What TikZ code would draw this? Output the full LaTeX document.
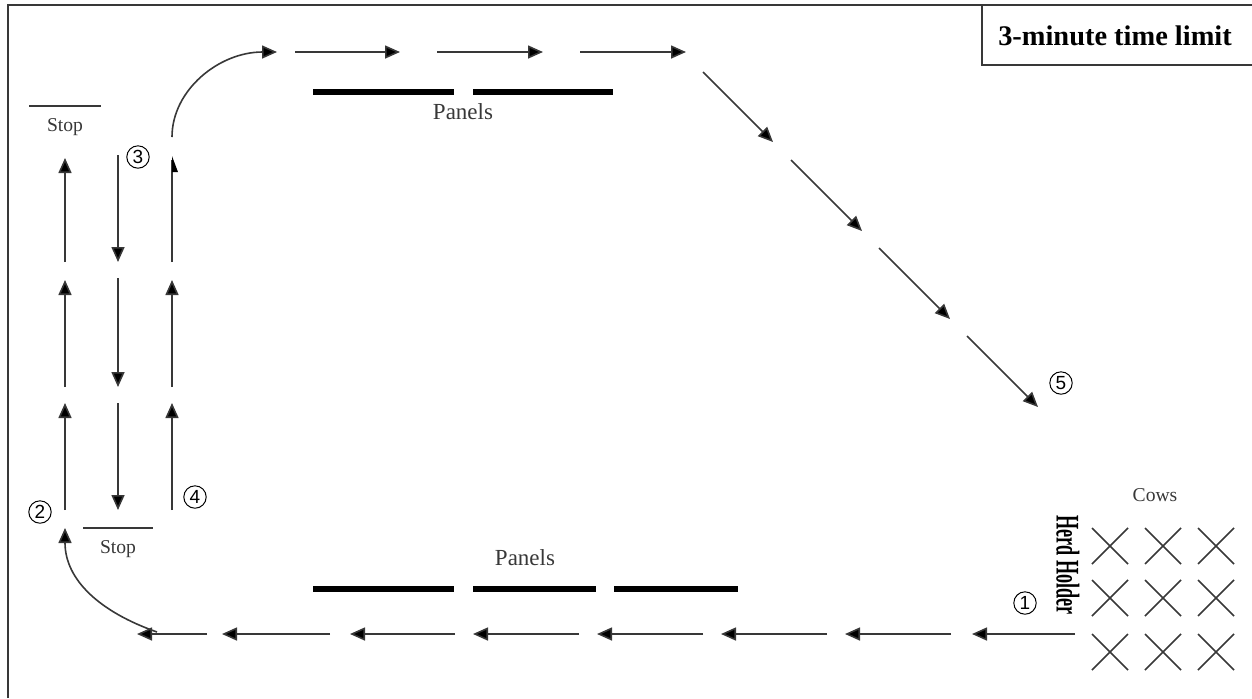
\documentclass[tikz,border=0pt]{standalone}
\usepackage{fontspec}
\setmainfont{Liberation Serif}
\setsansfont{Liberation Sans}
\usetikzlibrary{arrows.meta}
\definecolor{ink}{gray}{0.22}
\tikzset{
  arr/.style={draw=ink, line width=0.8pt, -{Triangle[length=7.5pt,width=6.5pt,fill=black]}},
  panel/.style={draw=black, line width=2.6pt},
  stopline/.style={draw=ink, line width=0.8pt},
  xmark/.style={draw=ink, line width=0.8pt},
  frame/.style={draw=ink, line width=1pt},
  smalltxt/.style={font=\fontsize{9.8}{10}\selectfont, text=ink, inner sep=0pt, anchor=base},
  paneltxt/.style={font=\fontsize{11.5}{12}\selectfont, text=ink, inner sep=0pt, anchor=base},
  circnum/.style={circle, draw=black, line width=0.5pt, minimum size=11.2pt, inner sep=0pt, font=\sffamily\fontsize{9.5}{9.5}\selectfont}
}
\begin{document}
\begin{tikzpicture}[x=0.5pt,y=-0.5pt]
\useasboundingbox (0,0) rectangle (1252,698);
% frame
\draw[frame] (8,698) -- (8,5) -- (1252,5);
\draw[frame] (982,5) -- (982,65) -- (1252,65);
\node[anchor=base, inner sep=0pt, font=\bfseries\fontsize{14.2}{15}\selectfont] (limit) at (1115,45) {3-minute time limit};

% top arrows
\draw[arr] (172,137) .. controls (172,90) and (219,52) .. (277,52);
\draw[arr] (295,52) -- (400,52);
\draw[arr] (437,52) -- (543,52);
\draw[arr] (580,52) -- (686,52);

% top panels
\draw[panel] (313,92) -- (454,92);
\draw[panel] (473,92) -- (613,92);
\node[paneltxt] (ptop) at (463,119) {Panels};

% diagonal arrows
\draw[arr] (703,72) -- (773,142);
\draw[arr] (791,160) -- (862,231);
\draw[arr] (879,248) -- (950,319);
\draw[arr] (967,336) -- (1038,407);
\node[circnum] (n5) at (1061,383) {5};

% left columns
\draw[arr] (65,262) -- (65,158);
\draw[arr] (65,387) -- (65,280);
\draw[arr] (65,510) -- (65,403);
\draw[arr] (118,155) -- (118,262);
\draw[arr] (118,278) -- (118,387);
\draw[arr] (118,403) -- (118,510);
\draw[draw=ink, line width=0.8pt] (172,262) -- (172,160);
\fill[black] (172,156) -- (178,172) -- (172,172) -- cycle;
\draw[arr] (172,387) -- (172,280);
\draw[arr] (172,510) -- (172,403);

% stops
\draw[stopline] (29,106) -- (101,106);
\node[smalltxt] (stop1) at (65,131) {Stop};
\draw[stopline] (83,528) -- (153,528);
\node[smalltxt] (stop2) at (118,553) {Stop};

\node[circnum] (n2) at (40,512) {2};
\node[circnum] (n3) at (138,157) {3};
\node[circnum] (n4) at (195,497) {4};

% bottom panels
\draw[panel] (313,589) -- (454,589);
\draw[panel] (473,589) -- (596,589);
\draw[panel] (614,589) -- (738,589);
\node[paneltxt] (pbot) at (525,565) {Panels};

% bottom arrows
\draw[arr] (1075,634) -- (972,634);
\draw[arr] (951,634) -- (845,634);
\draw[arr] (827,634) -- (721,634);
\draw[arr] (703,634) -- (597,634);
\draw[arr] (579,634) -- (473,634);
\draw[arr] (455,634) -- (350,634);
\draw[arr] (330,634) -- (222,634);
\draw[arr] (207,634) -- (137,634);
\draw[arr] (157,632) .. controls (100,612) and (65,580) .. (65,528);

% cows
\node[smalltxt] (cows) at (1155,501) {Cows};
\foreach \cx in {1110,1163,1216}{
  \foreach \cy in {546,598,652}{
    \draw[xmark] (\cx-18,\cy-18) -- (\cx+18,\cy+18) (\cx-18,\cy+18) -- (\cx+18,\cy-18);
  }
}
\node[rotate=-90, inner sep=0pt, font=\bfseries\fontsize{16.5}{16}\selectfont] (herd) at (1068,565) {\scalebox{0.55}[1]{Herd Holder}};
\node[circnum] (n1) at (1025,603) {1};
\end{tikzpicture}
\end{document}
